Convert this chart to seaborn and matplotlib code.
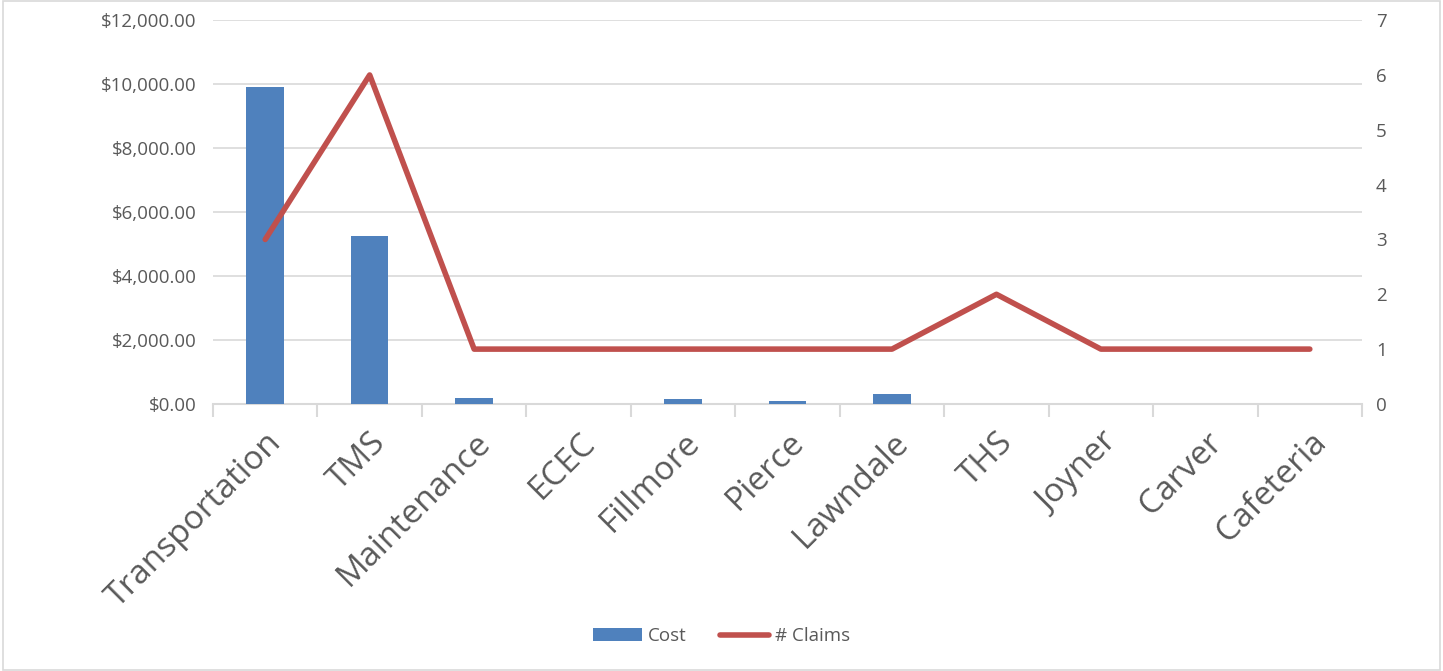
import numpy as np
import pandas as pd
import matplotlib
matplotlib.use("Agg")
import matplotlib.pyplot as plt
import seaborn as sns
from matplotlib.ticker import FuncFormatter, MultipleLocator, FixedLocator

departments = ["Transportation", "TMS", "Maintenance", "ECEC", "Fillmore", "Pierce",
               "Lawndale", "THS", "Joyner", "Carver", "Cafeteria"]
cost = [9900, 5250, 180, 0, 150, 100, 310, 0, 0, 0, 0]
claims = [3, 6, 1, 1, 1, 1, 1, 2, 1, 1, 1]

df = pd.DataFrame({"Department": departments, "Cost": cost, "Claims": claims})

sns.set_style("white")
plt.rcParams['font.family'] = ['Open Sans', 'DejaVu Sans']

grey_text = "#595959"
grid_col = "#d9d9d9"

fig = plt.figure(figsize=(14.43, 6.71), dpi=100)
ax = fig.add_axes([0.1476, 0.398, 0.7963, 0.572])

sns.barplot(data=df, x="Department", y="Cost", color="#4f81bd", width=0.36,
            saturation=1, ax=ax, label="Cost", zorder=3, linewidth=0)
ax.set_ylim(0, 12000)
ax.yaxis.set_major_locator(MultipleLocator(2000))
ax.yaxis.set_major_formatter(FuncFormatter(lambda v, p: "${:,.2f}".format(v)))
ax.grid(axis="y", color=grid_col, linewidth=1.2, zorder=0)
ax.set_axisbelow(True)
ax.set_xlabel("")
ax.set_ylabel("")
for s in ["top", "right", "left"]:
    ax.spines[s].set_visible(False)
ax.spines["bottom"].set_color(grid_col)
ax.spines["bottom"].set_linewidth(1.5)
ax.tick_params(axis="y", length=0, labelsize=13.5, labelcolor=grey_text, pad=12)

ax2 = ax.twinx()
sns.lineplot(data=df, x="Department", y="Claims", color="#c0504d", linewidth=4,
             ax=ax2, label="# Claims", solid_capstyle="round", sort=False)
ax2.set_ylim(0, 7)
ax2.yaxis.set_major_locator(MultipleLocator(1))
ax2.set_ylabel("")
for s in ["top", "right", "left", "bottom"]:
    ax2.spines[s].set_visible(False)
ax2.tick_params(axis="y", length=0, labelsize=13.5, labelcolor=grey_text, pad=10)

ax.set_xlim(-0.5, len(departments) - 0.5)
ax.set_xticks(range(len(departments)))
ax.set_xticklabels(departments, rotation=45, ha="right", rotation_mode="anchor",
                   fontsize=24, color=grey_text)
ax.tick_params(axis="x", which="major", length=0, pad=16)
ax.xaxis.set_minor_locator(FixedLocator(np.arange(-0.5, len(departments), 1.0)))
ax.tick_params(axis="x", which="minor", bottom=True, length=9, width=1.5, color=grid_col)

h1, l1 = ax.get_legend_handles_labels()
h2, l2 = ax2.get_legend_handles_labels()
if ax2.get_legend():
    ax2.get_legend().remove()
if ax.get_legend():
    ax.get_legend().remove()
leg = fig.legend(h1 + h2, l1 + l2, loc="center", bbox_to_anchor=(0.5, 0.052), ncol=2,
                 frameon=False, fontsize=13.5, handlelength=2.6, columnspacing=1.8,
                 handletextpad=0.3)
for t in leg.get_texts():
    t.set_color(grey_text)

border = plt.Rectangle((0.002, 0.002), 0.996, 0.996, transform=fig.transFigure,
                       fill=False, edgecolor=grid_col, linewidth=1.2)
fig.patches.append(border)

fig.savefig("out.png", dpi=100)
